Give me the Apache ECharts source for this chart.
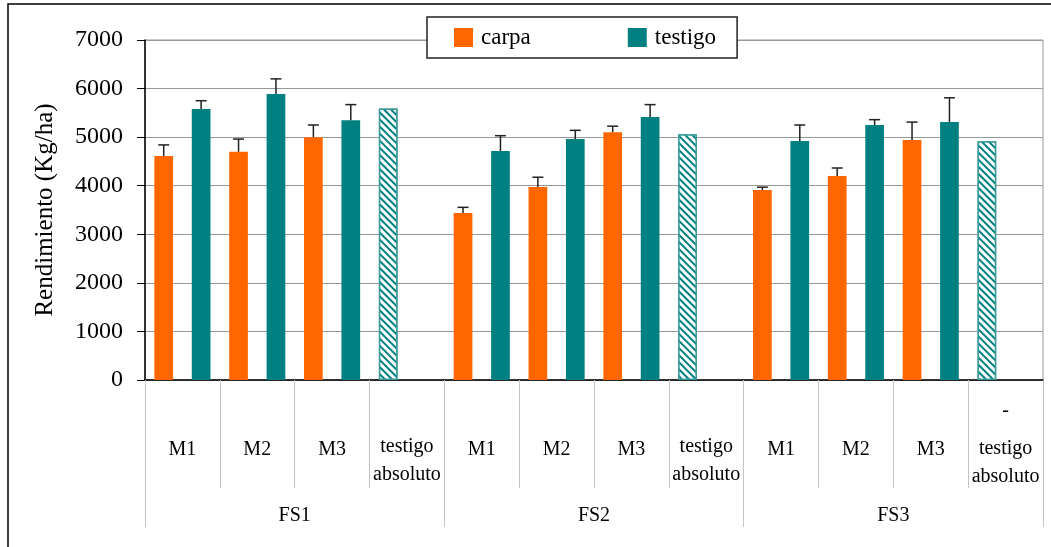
<!DOCTYPE html>
<html>
<head>
<meta charset="utf-8">
<script src="https://cdn.jsdelivr.net/npm/echarts@6/dist/echarts.min.js"></script>
<style>
html,body{margin:0;padding:0;background:#fff;}
#chart{width:1051px;height:547px;}
</style>
</head>
<body>
<div id="chart"></div>
<script>
const categories = ['M1','M2','M3','testigo absoluto','M1','M2','M3','testigo absoluto','M1','M2','M3','- testigo absoluto'];
const groups = ['FS1','FS2','FS3'];
const carpa = [4610, 4700, 5000, null, 3440, 3975, 5100, null, 3910, 4200, 4940, null];
const carpaErr = [230, 260, 250, null, 115, 200, 125, null, 60, 165, 370, null];
const testigo = [5580, 5890, 5350, null, 4715, 4960, 5415, null, 4920, 5250, 5310, null];
const testigoErr = [170, 310, 320, null, 315, 180, 255, null, 330, 110, 500, null];
const testigoAbsoluto = [null, null, null, 5590, null, null, null, 5060, null, null, null, 4915];
const yMin = 0, yMax = 7000, yInterval = 1000;

const ORANGE = '#FF6600', TEAL = '#008080';
const FONT = 'Liberation Serif';

function errData(vals, errs) {
  const out = [];
  vals.forEach((v, i) => { if (v != null && errs[i] != null) out.push([i, v, errs[i]]); });
  return out;
}
function errRender(sign) {
  return function (params, api) {
    const i = api.value(0), v = api.value(1), e = api.value(2);
    const band = api.size([1, 0])[0];
    const off = sign * band * 0.25;
    const p0 = api.coord([i, v]);
    const p1 = api.coord([i, v + e]);
    const x = p0[0] + off;
    const style = { stroke: '#222', lineWidth: 1.5 };
    return {
      type: 'group',
      children: [
        { type: 'line', shape: { x1: x, y1: p0[1], x2: x, y2: p1[1] }, style: style },
        { type: 'line', shape: { x1: x - 5.5, y1: p1[1], x2: x + 5.5, y2: p1[1] }, style: style }
      ]
    };
  };
}

const chart = echarts.init(document.getElementById('chart'), null, { renderer: 'canvas' });
chart.setOption({
  animation: false,
  backgroundColor: '#fff',
  textStyle: { fontFamily: FONT, color: '#000' },
  graphic: [{
    type: 'rect', silent: true, z: 100,
    shape: { x: 8, y: 4, width: 1200, height: 700 },
    style: { fill: 'none', stroke: '#000', lineWidth: 1.5 }
  }],
  legend: {
    data: ['carpa', 'testigo'],
    left: 427, top: 17,
    padding: [9, 21, 9, 27],
    itemGap: 97,
    itemWidth: 19, itemHeight: 19,
    icon: 'rect',
    backgroundColor: '#fff',
    borderColor: '#222', borderWidth: 1.5,
    textStyle: { fontFamily: FONT, fontSize: 23, color: '#000', padding: [0, 0, 0, 3] }
  },
  grid: {
    left: 145, right: 8, top: 40, bottom: 167,
    show: true, borderColor: '#999', borderWidth: 1, backgroundColor: 'transparent'
  },
  xAxis: [{
    type: 'category',
    data: categories,
    position: 'bottom',
    axisLine: { show: true, lineStyle: { color: '#000', width: 1.5 } },
    axisTick: { show: true, interval: 0, length: 108, lineStyle: { color: '#c4c4c4', width: 1 } },
    axisLabel: {
      interval: 0, margin: 70, verticalAlign: 'middle',
      fontFamily: FONT, fontSize: 20, color: '#000',
      formatter: function (v) {
        if (v.indexOf('- ') === 0) return '{d|-}\n{t|testigo}\n{t|absoluto}\n{p| }';
        if (v === 'testigo absoluto') return '{p| }\n{t|testigo}\n{t|absoluto}';
        return '{t|' + v + '}';
      },
      rich: {
        t: { fontFamily: FONT, fontSize: 20, lineHeight: 28, color: '#000' },
        p: { fontFamily: FONT, fontSize: 20, lineHeight: 22, color: '#000' },
        d: { fontFamily: FONT, fontSize: 20, lineHeight: 48, color: '#000' }
      }
    },
    splitLine: { show: false }
  }, {
    type: 'category',
    data: groups,
    position: 'bottom',
    offset: 0,
    axisLine: { show: false },
    axisTick: { show: true, interval: 0, length: 147, lineStyle: { color: '#c4c4c4', width: 1 } },
    axisLabel: { interval: 0, margin: 136, verticalAlign: 'middle', fontFamily: FONT, fontSize: 20, color: '#000' },
    splitLine: { show: false }
  }],
  yAxis: {
    type: 'value',
    min: yMin, max: yMax, interval: yInterval,
    name: 'Rendimiento (Kg/ha)',
    nameLocation: 'middle', nameRotate: 90, nameGap: 87,
    nameTextStyle: { fontFamily: FONT, fontSize: 25, color: '#000' },
    axisLine: { show: true, lineStyle: { color: '#000', width: 1.5 } },
    axisTick: { show: true, inside: false, length: 8, lineStyle: { color: '#000', width: 1 } },
    axisLabel: {
      margin: 22, fontFamily: FONT, fontSize: 24, color: '#000',
      formatter: function (v) { return String(v); }
    },
    splitLine: { show: true, lineStyle: { color: '#999', width: 1 } }
  },
  series: [{
    name: 'carpa', type: 'bar', stack: 'first',
    data: carpa,
    barWidth: '25%', barGap: '100%',
    itemStyle: { color: ORANGE }
  }, {
    name: 'testigo absoluto', type: 'bar', stack: 'first',
    data: testigoAbsoluto,
    barWidth: '25%', barGap: '100%',
    itemStyle: {
      color: '#fff', borderColor: '#3a9a9a', borderWidth: 1.5,
      decal: {
        symbol: 'rect', symbolSize: 1, color: TEAL, backgroundColor: '#fff',
        dashArrayX: [1, 0], dashArrayY: [1.5, 2.5], rotation: Math.PI / 4
      }
    }
  }, {
    name: 'testigo', type: 'bar',
    data: testigo,
    barWidth: '25%', barGap: '100%',
    itemStyle: { color: TEAL }
  }, {
    name: 'errCarpa', type: 'custom', z: 5,
    data: errData(carpa, carpaErr),
    renderItem: errRender(-1)
  }, {
    name: 'errTestigo', type: 'custom', z: 5,
    data: errData(testigo, testigoErr),
    renderItem: errRender(1)
  }]
});
</script>
</body>
</html>
